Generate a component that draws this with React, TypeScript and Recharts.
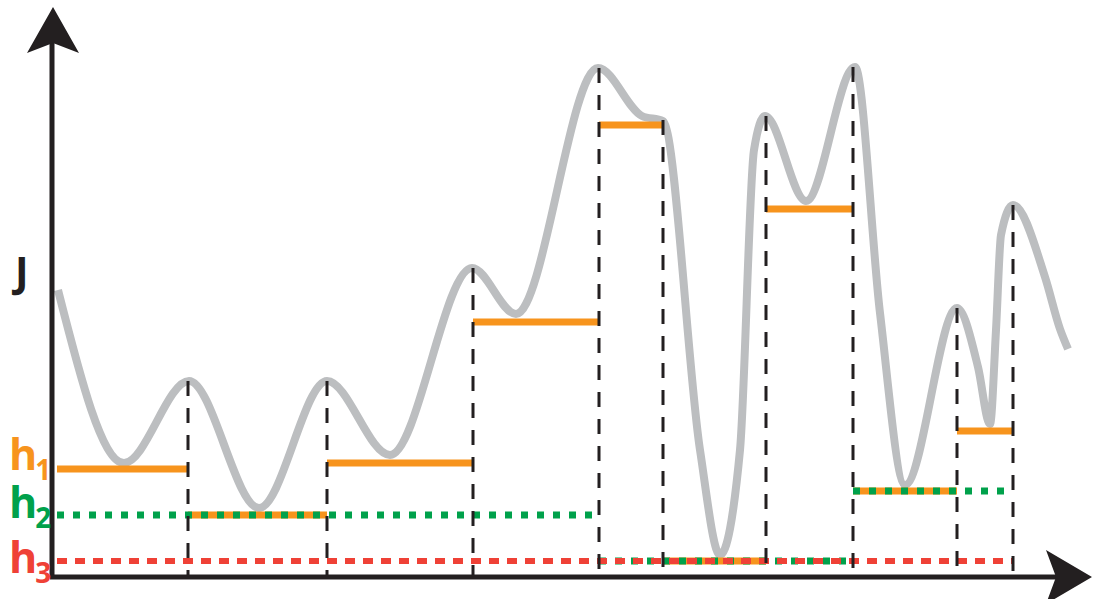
import React from 'react';
import { ComposedChart, Line, XAxis, YAxis, ReferenceLine, ReferenceDot } from 'recharts';

// gray J curve: extrema plus a few shaping points
const curveX = [58, 124, 189, 259, 327, 390, 472, 516, 598, 642, 663, 700, 720, 740, 754, 765, 806, 855, 880, 905, 957, 978, 990, 996, 1001, 1013, 1045, 1060, 1068];
const curveJ = [287, 114, 196, 69, 196, 122, 309, 263, 509, 461, 456, 127, 22, 127, 427, 461, 376, 510, 264, 92, 269, 210, 153, 247, 342, 372, 300, 248, 228];

// dashed boundaries at the peaks
const boundaryX = [188, 327, 473, 599, 663, 766, 853, 957, 1013];
const boundaryTop = [196, 196, 309, 509, 457, 461, 510, 269, 372];

// h1 levels (orange)
const h1Start = [57, 188, 327, 473, 599, 663, 766, 853, 957];
const h1End = [188, 327, 473, 599, 663, 766, 853, 957, 1013];
const h1Level = [108, 62, 114, 255, 452, 16, 368, 86, 146];

// h2 levels (green)
const h2Start = [57, 599, 853];
const h2End = [599, 853, 1013];
const h2Level = [62, 16, 86];

// h3 level (red)
const h3Start = [57];
const h3End = [1013];
const h3Level = [16];

const curveData = curveX.map((x, i) => ({ x, j: curveJ[i] }));

const AXIS = '#231f20';
const GRAY = '#bcbec0';
const ORANGE = '#f7941d';
const GREEN = '#00a14b';
const RED = '#ef4136';
const FONT = "'Open Sans', sans-serif";

const upArrow = (p: any) => (
  <polygon points={`${p.cx},${p.cy} ${p.cx - 26},${p.cy + 46} ${p.cx},${p.cy + 36} ${p.cx + 26},${p.cy + 46}`} fill={AXIS} />
);
const rightArrow = (p: any) => (
  <polygon points={`${p.cx},${p.cy} ${p.cx - 46},${p.cy - 27} ${p.cx - 36},${p.cy} ${p.cx - 46},${p.cy + 27}`} fill={AXIS} />
);

const hLabel = (color: string, sub: string) => (p: any) => (
  <text x={p.cx} y={p.cy} fill={color} fontFamily={FONT} fontWeight={700} fontSize={43}>
    h<tspan fontSize={28} dx={-2} dy={10}>{sub}</tspan>
  </text>
);

const jLabel = (p: any) => (
  <text x={p.cx} y={p.cy} fill={AXIS} fontFamily={FONT} fontWeight={700} fontSize={41}>J</text>
);

const App: React.FC = () => {
  return (
    <div style={{ position: 'absolute', left: 0, top: 0, width: 1093, height: 599, background: '#fff' }}>
      <ComposedChart width={1093} height={599} margin={{ top: 0, right: 0, bottom: 0, left: 0 }}>
        <XAxis type="number" dataKey="x" domain={[0, 1093]} hide />
        <YAxis type="number" domain={[-22, 577]} hide />

        <Line
          data={curveData}
          dataKey="j"
          type="monotone"
          stroke={GRAY}
          strokeWidth={8}
          dot={false}
          activeDot={false}
          isAnimationActive={false}
        />

        {h1Start.map((s, i) => (
          <ReferenceLine key={`o${i}`} segment={[{ x: s, y: h1Level[i] }, { x: h1End[i], y: h1Level[i] }]} stroke={ORANGE} strokeWidth={7} />
        ))}
        {h2Start.map((s, i) => (
          <ReferenceLine key={`g${i}`} segment={[{ x: s, y: h2Level[i] }, { x: h2End[i], y: h2Level[i] }]} stroke={GREEN} strokeWidth={7} strokeDasharray="7 9" />
        ))}
        {h3Start.map((s, i) => (
          <ReferenceLine key={`r${i}`} segment={[{ x: s, y: h3Level[i] }, { x: h3End[i], y: h3Level[i] }]} stroke={RED} strokeWidth={6} strokeDasharray="10 8" />
        ))}

        {boundaryX.map((x, i) => (
          <ReferenceLine key={`b${i}`} segment={[{ x, y: boundaryTop[i] }, { x, y: 0 }]} stroke={AXIS} strokeWidth={3} strokeDasharray="15 12" />
        ))}

        <ReferenceLine segment={[{ x: 52, y: 0 }, { x: 52, y: 535 }]} stroke={AXIS} strokeWidth={5} />
        <ReferenceLine segment={[{ x: 50, y: 0 }, { x: 1060, y: 0 }]} stroke={AXIS} strokeWidth={5} />
        <ReferenceDot x={53} y={570} shape={upArrow} />
        <ReferenceDot x={1092} y={0} shape={rightArrow} />

        <ReferenceDot x={15} y={290} shape={jLabel} />
        <ReferenceDot x={9} y={107} shape={hLabel(ORANGE, '1')} />
        <ReferenceDot x={9} y={59} shape={hLabel(GREEN, '2')} />
        <ReferenceDot x={9} y={4} shape={hLabel(RED, '3')} />
      </ComposedChart>
    </div>
  );
};

export default App;
